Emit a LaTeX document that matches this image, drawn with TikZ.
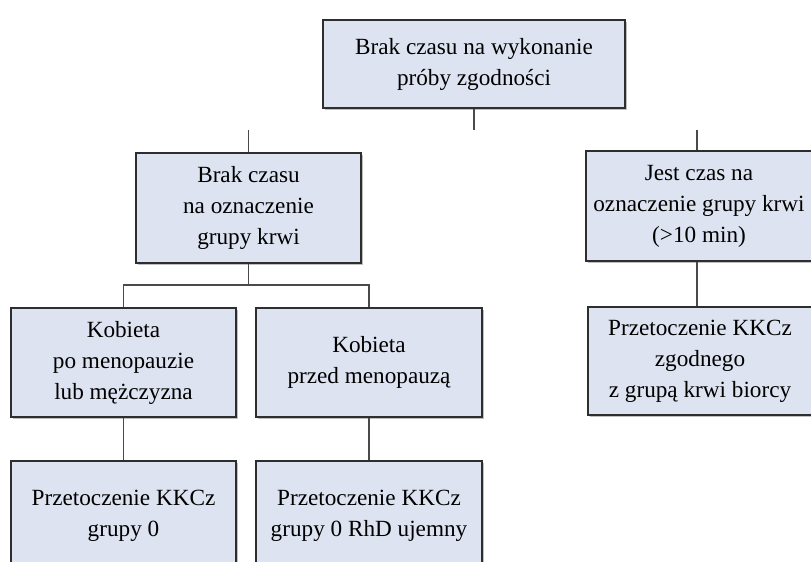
\documentclass[tikz,border=0pt]{standalone}
\usepackage{fontspec}
\setmainfont{Liberation Serif}
\usetikzlibrary{shadows}
\definecolor{boxfill}{HTML}{DDE3F1}
\definecolor{boxline}{HTML}{2E2E2E}
\definecolor{connc}{HTML}{4A4A4A}
\begin{document}
\begin{tikzpicture}[x=1pt,y=-1pt,
  box/.style={draw=boxline, line width=1.8pt, fill=boxfill, align=center, inner sep=0pt,
    font=\fontsize{23.2}{31}\selectfont,
    drop shadow={shadow xshift=1.5pt, shadow yshift=-1.5pt, fill=black!25, opacity=1}},
  conn/.style={draw=connc, line width=1.3pt}]
\useasboundingbox (0,0) rectangle (811,562);
\clip (0,0) rectangle (811,562);

\node[box, minimum width=302pt, minimum height=88pt] (top) at (474,64)
  {Brak czasu na wykonanie\\próby zgodności};
\node[box, minimum width=225pt, minimum height=110pt] (brak) at (248.5,208)
  {Brak czasu\\na oznaczenie\\grupy krwi};
\node[box, minimum width=226pt, minimum height=110pt] (jest) at (699,206)
  {Jest czas na\\oznaczenie grupy krwi\\(>10 min)};
\node[box, minimum width=224pt, minimum height=108pt] (zgod) at (700,361)
  {Przetoczenie KKCz\\zgodnego\\z grupą krwi biorcy};
\node[box, minimum width=225pt, minimum height=109pt] (kob1) at (123.5,362.5)
  {Kobieta\\po menopauzie\\lub mężczyzna};
\node[box, minimum width=226pt, minimum height=109pt] (kob2) at (369,362.5)
  {Kobieta\\przed menopauzą};
\node[box, minimum width=225pt, minimum height=110pt] (p1) at (123.5,516)
  {Przetoczenie KKCz\\grupy 0};
\node[box, minimum width=226pt, minimum height=110pt] (p2) at (369,516)
  {Przetoczenie KKCz\\grupy 0 RhD ujemny};

\coordinate (j1) at (474,130);
\coordinate (j2) at (248.5,130);
\coordinate (j3) at (697,130);
\coordinate (j4) at (248.5,285);

\draw[conn] (top.south) -- (j1);
\draw[conn] (j2) -- (brak.north);
\draw[conn] (j3) -- (j3 |- jest.north);
\draw[conn] (j3 |- jest.south) -- (j3 |- zgod.north);
\draw[conn] (brak.south) -- (j4);
\draw[conn] (kob1.north) |- (j4) -| (kob2.north);
\draw[conn] (kob1.south) -- (p1.north);
\draw[conn] (kob2.south) -- (p2.north);
\end{tikzpicture}
\end{document}
